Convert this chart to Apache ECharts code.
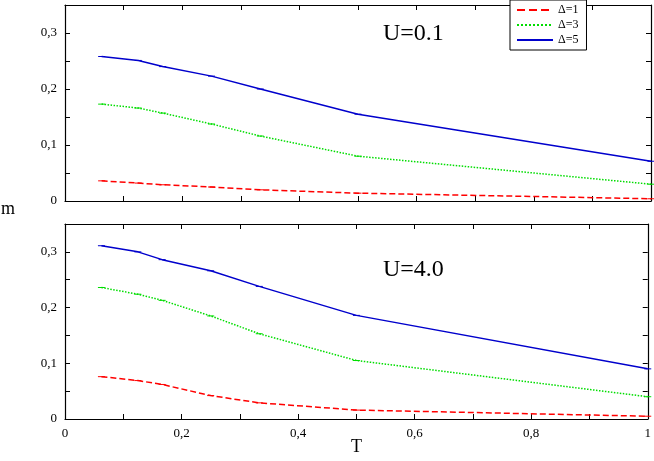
<!DOCTYPE html>
<html><head><meta charset="utf-8">
<script src="https://cdn.jsdelivr.net/npm/echarts@6/dist/echarts.min.js"></script>
<style>html,body{margin:0;padding:0;background:#fff}#c{width:654px;height:461px}</style>
</head><body><div id="c"></div>
<script>
const T = [0.0625, 0.125, 0.1667, 0.25, 0.3333, 0.5, 1];
const top1 = [0.036, 0.032, 0.029, 0.025, 0.020, 0.014, 0.004];
const top3 = [0.173, 0.166, 0.157, 0.1375, 0.116, 0.080, 0.030];
const top5 = [0.258, 0.251, 0.240, 0.223, 0.200, 0.155, 0.071];
const bot1 = [0.076, 0.069, 0.062, 0.042, 0.029, 0.016, 0.005];
const bot3 = [0.236, 0.224, 0.213, 0.185, 0.153, 0.105, 0.040];
const bot5 = [0.311, 0.300, 0.286, 0.266, 0.238, 0.186, 0.090];
const yTickLabels = {0:'0', 0.1:'0,1', 0.2:'0,2', 0.3:'0,3'};
const xTickLabels = {0:'0', 0.2:'0,2', 0.4:'0,4', 0.6:'0,6', 0.8:'0,8', 1:'1'};
const names = ['Δ=1','Δ=3','Δ=5'];
const colors = ['#ff0000','#00dd00','#0000cc'];
const types = ['dashed','dotted','solid'];

const F = 'Liberation Serif';
const pair = a => T.map((t,i)=>[t,a[i]]);
function xAx(gi, show, pos){
  return {type:'value', gridIndex:gi, min:0, max:1, interval:0.1, position:pos,
    axisLine:{show:true, onZero:false, lineStyle:{color:'#000', width:1.2}},
    axisTick:{show:true, inside:true, length:5, lineStyle:{color:'#000'}},
    splitLine:{show:false},
    axisLabel:{show:show, fontFamily:F, fontSize:13, color:'#000', formatter:v=>xTickLabels[Math.round(v*10)/10] ?? ''}};
}
function yAx(gi, show, pos){
  return {type:'value', gridIndex:gi, min:0, max:0.35, interval:0.05, position:pos,
    axisLine:{show:true, onZero:false, lineStyle:{color:'#000', width:1.2}},
    axisTick:{show:true, inside:true, length:5, lineStyle:{color:'#000'}},
    splitLine:{show:false},
    axisLabel:{show:show, fontFamily:F, fontSize:13, color:'#000', formatter:v=>yTickLabels[Math.round(v*100)/100] ?? ''}};
}
const series = [];
[[top1,top3,top5],[bot1,bot3,bot5]].forEach((set,g)=>{
  set.forEach((d,k)=>{
    series.push({name:names[k], type:'line', xAxisIndex:g*2, yAxisIndex:g*2, data:pair(d),
      showSymbol:true, symbol:'rect', symbolSize:[7,1], silent:true,
      itemStyle:{color:colors[k]},
      lineStyle:{color:colors[k], type:types[k], width:1.5}});
  });
});
const chart = echarts.init(document.getElementById('c'));
chart.setOption({
  animation:false,
  grid:[{left:65, top:5, width:586, height:196},{left:65, top:224, width:586, height:195}],
  xAxis:[xAx(0,false,'bottom'), xAx(0,false,'top'), xAx(1,true,'bottom'), xAx(1,false,'top')],
  yAxis:[yAx(0,true,'left'), yAx(0,false,'right'), yAx(1,true,'left'), yAx(1,false,'right')],
  legend:{data:names, orient:'vertical', left:510, top:0, itemWidth:36, itemHeight:10, itemGap:3,
    padding:[4,8,4,6], borderColor:'#000', borderWidth:1, backgroundColor:'#fff',
    itemStyle:{opacity:0},
    textStyle:{fontFamily:F, fontSize:12, color:'#000'}},
  graphic:[
    {type:'text', left:383, top:22, style:{text:'U=0.1', font:'24px "Liberation Serif"', fill:'#000'}},
    {type:'text', left:383, top:258, style:{text:'U=4.0', font:'24px "Liberation Serif"', fill:'#000'}},
    {type:'text', left:1, top:200, style:{text:'m', font:'18px "Liberation Serif"', fill:'#000'}},
    {type:'text', left:351, top:438, style:{text:'T', font:'18px "Liberation Serif"', fill:'#000'}}
  ],
  series
});
</script></body></html>
